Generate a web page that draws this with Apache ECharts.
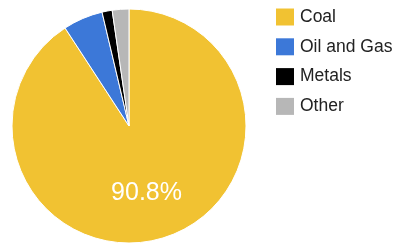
<!DOCTYPE html>
<html>
<head>
<meta charset="utf-8">
<script src="https://cdn.jsdelivr.net/npm/echarts@6/dist/echarts.min.js"></script>
<style>
  html, body { margin: 0; padding: 0; background: #fff; }
  #chart { width: 395px; height: 247px; }
</style>
</head>
<body>
<div id="chart"></div>
<script>
const categories = ['Coal', 'Oil and Gas', 'Metals', 'Other']
const values = [90.8, 5.5, 1.4, 2.3]
const colors = ['#f1c232', '#3c78d8', '#000000', '#b7b7b7']

const chart = echarts.init(document.getElementById('chart'))

const data = categories.map((name, i) => ({
  name: name,
  value: values[i],
  itemStyle: { color: colors[i] },
  // only the big slice gets a label, like the original
  label: { show: i === 0 }
}))

chart.setOption({
  animation: false,
  legend: {
    orient: 'vertical',
    left: 276,
    top: 8,
    padding: 0,
    itemWidth: 18,
    itemHeight: 17,
    itemGap: 11.8,
    icon: 'rect',
    itemStyle: { borderWidth: 0 },
    textStyle: {
      fontFamily: 'Liberation Sans, Arial, sans-serif',
      fontSize: 17.5,
      lineHeight: 17,
      color: '#222',
      padding: [0, 0, 0, 1]
    },
    data: categories
  },
  series: [
    {
      type: 'pie',
      center: [129, 126],
      radius: [0, 117],
      startAngle: 90,
      clockwise: true,
      itemStyle: { borderColor: '#fff', borderWidth: 1 },
      label: {
        position: 'inside',
        formatter: p => p.value.toFixed(1) + '%',
        color: '#fff',
        fontSize: 25,
        fontFamily: 'Liberation Sans, Arial, sans-serif',
        offset: [0, 8]
      },
      labelLine: { show: false },
      emphasis: { disabled: true },
      data: data
    }
  ]
})
</script>
</body>
</html>
